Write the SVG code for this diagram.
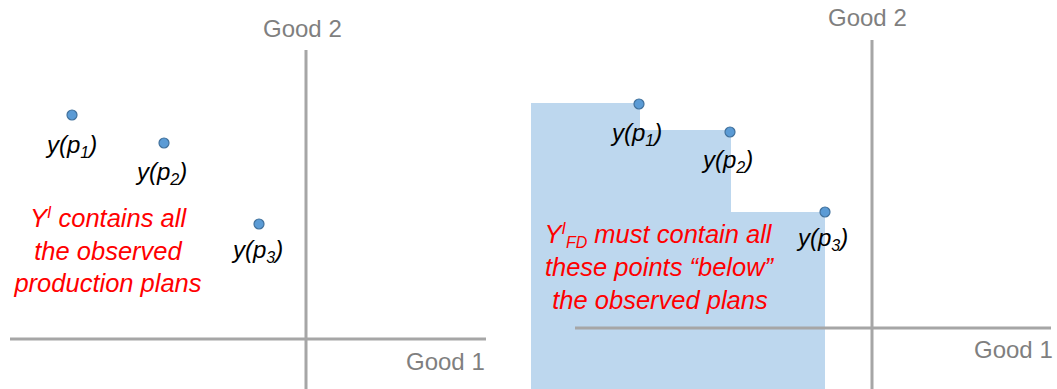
<svg xmlns="http://www.w3.org/2000/svg" width="1057" height="389" viewBox="0 0 1057 389">
<style>
.axis{stroke:#a6a6a6;stroke-width:3;fill:none}
.pt{fill:#5b9bd5;stroke:#41719c;stroke-width:1.2}
.lbl{font-family:"Liberation Sans",Arial,sans-serif;font-style:italic;font-size:24px;fill:#000}
.red{font-family:"Liberation Sans",Arial,sans-serif;font-style:italic;font-size:25.5px;fill:#ff0000;text-anchor:middle}
.good{font-family:"Liberation Sans",Arial,sans-serif;font-size:24px;fill:#7f7f7f}
.sub{font-size:16px}
</style>
<rect width="1057" height="389" fill="#ffffff"/>
<g id="region">
<path d="M531,103 H640 V130 H731 V212 H825 V389 H531 Z" fill="#bdd7ee"/>
</g>
<g id="axes">
<line class="axis" x1="306" y1="50" x2="306" y2="389"/>
<line class="axis" x1="10" y1="339" x2="486" y2="339"/>
<line class="axis" x1="872" y1="40" x2="872" y2="389"/>
<line class="axis" x1="575" y1="328" x2="1051" y2="328"/>
<text class="good" x="263" y="37">Good 2</text>
<text class="good" x="406" y="370">Good 1</text>
<text class="good" x="828" y="26">Good 2</text>
<text class="good" x="974" y="358">Good 1</text>
</g>
<g id="left-points">
<circle class="pt" cx="72" cy="115" r="5"/>
<circle class="pt" cx="164" cy="143" r="5"/>
<circle class="pt" cx="259" cy="224" r="5"/>
<text class="lbl" x="47" y="153">y(p<tspan class="sub" dy="5">1</tspan><tspan dy="-5">)</tspan></text>
<text class="lbl" x="137" y="180">y(p<tspan class="sub" dy="5">2</tspan><tspan dy="-5">)</tspan></text>
<text class="lbl" x="233" y="258">y(p<tspan class="sub" dy="5">3</tspan><tspan dy="-5">)</tspan></text>
</g>
<g id="left-note">
<text class="red" x="108" y="227">Y<tspan class="sub" dy="-9">I</tspan><tspan dy="9"> contains all</tspan></text>
<text class="red" x="108" y="260">the observed</text>
<text class="red" x="108" y="292">production plans</text>
</g>
<g id="right-points">
<circle class="pt" cx="639" cy="104" r="5"/>
<circle class="pt" cx="730" cy="132" r="5"/>
<circle class="pt" cx="825" cy="212" r="5"/>
<text class="lbl" x="612" y="141">y(p<tspan class="sub" dy="5">1</tspan><tspan dy="-5">)</tspan></text>
<text class="lbl" x="703" y="168">y(p<tspan class="sub" dy="5">2</tspan><tspan dy="-5">)</tspan></text>
<text class="lbl" x="798" y="246">y(p<tspan class="sub" dy="5">3</tspan><tspan dy="-5">)</tspan></text>
</g>
<g id="right-note">
<text class="red" x="658" y="243">Y<tspan class="sub" dy="-9">I</tspan><tspan class="sub" dy="14">FD</tspan><tspan dy="-5"> must contain all</tspan></text>
<text class="red" x="659" y="276">these points “below”</text>
<text class="red" x="660" y="309">the observed plans</text>
</g>
</svg>
